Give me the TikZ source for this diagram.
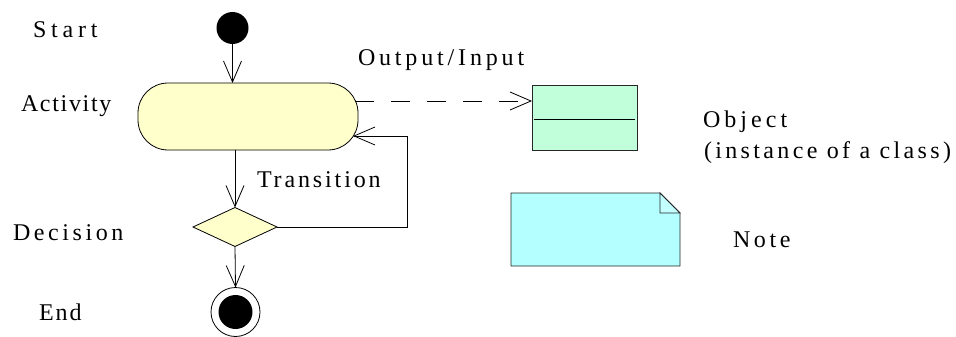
\documentclass[tikz,border=0pt]{standalone}
\usepackage{fontspec}
\setmainfont{Liberation Serif}
\usetikzlibrary{arrows.meta,shapes.geometric}
\definecolor{actfill}{RGB}{255,255,204}
\definecolor{objfill}{RGB}{192,255,218}
\definecolor{notefill}{RGB}{180,255,255}
\newcommand{\ls}[2]{{\addfontfeature{LetterSpace=#1}#2}}
\begin{document}
\begin{tikzpicture}[x=1pt,y=1pt,
  every node/.style={inner sep=0pt,outer sep=0pt},
  ln/.style={line width=0.8pt,draw=black},
  arr/.style={ln,-{Straight Barb[length=21pt,width=18pt,line width=0.8pt]}},
  dasharr/.style={arr,dash pattern=on 19pt off 17pt},
  lbl/.style={anchor=base west,font=\fontsize{24}{28}\selectfont}]
\useasboundingbox (0,0) rectangle (956,-337);
% start
\node[circle,fill=black,minimum size=32pt] (start) at (232.5,-28) {};
% activity
\node[ln,fill=actfill,rounded corners=30pt,minimum width=220pt,minimum height=67pt] (act) at (248,-116.5) {};
% decision
\node[ln,fill=actfill,diamond,minimum width=84pt,minimum height=39pt,aspect=2.15] (dec) at (235,-227) {};
% end
\node[ln,circle,minimum size=49pt] (endc) at (235.5,-312) {};
\node[circle,fill=black,minimum size=34pt] (endin) at (endc.center) {};
% object
\node[ln,fill=objfill,draw=black!85,minimum width=105pt,minimum height=65pt] (obj) at (584.5,-117.5) {};
\draw[line width=0.8pt] ([xshift=2pt,yshift=-1.5pt]obj.west) -- ([xshift=-2pt,yshift=-1.5pt]obj.east);
% note
\node[minimum width=169pt,minimum height=73pt] (note) at (595.5,-229.5) {};
\draw[ln,draw=black!85,fill=notefill] (note.north west) -- ([xshift=-20pt]note.north east) -- ([yshift=-20pt]note.north east) -- (note.south east) -- (note.south west) -- cycle;
\draw[ln,draw=black!85,fill=notefill!80!white] ([xshift=-20pt]note.north east) -- ([xshift=-20pt,yshift=-20pt]note.north east) -- ([yshift=-20pt]note.north east) -- cycle;
% connectors
\draw[arr] (start) -- (start |- act.north);
\draw[arr] (dec |- act.south) -- (dec.north);
\draw[arr] (dec.south) -- (endc.north);
\coordinate (lp) at (407.5,-136);
\draw[arr] (dec.east) -| (lp) -- ([xshift=-5pt]act.east |- lp);
\draw[dasharr] ([xshift=-3pt,yshift=15.5pt]act.east) -- ([yshift=16.5pt]obj.west);
% labels
\node[lbl] (tstart) at (33,-38) {\ls{20}{Start}};
\node[lbl] (tact) at (21,-111) {\ls{7}{Activity}};
\node[lbl] (tdec) at (13,-240) {\ls{15}{Decision}};
\node[lbl] (tend) at (39,-320) {\ls{8}{End}};
\node[lbl] (tout) at (358,-66) {\ls{16}{Output/Input}};
\node[lbl] (ttr) at (257,-187) {\ls{12}{Transition}};
\node[lbl] (tobj) at (703,-127) {\ls{17}{Object}};
\node[lbl] (tinst) at (704,-158) {\ls{14}{(instance of a class)}};
\node[lbl] (tnote) at (733,-247) {\ls{15}{Note}};
\end{tikzpicture}
\end{document}
